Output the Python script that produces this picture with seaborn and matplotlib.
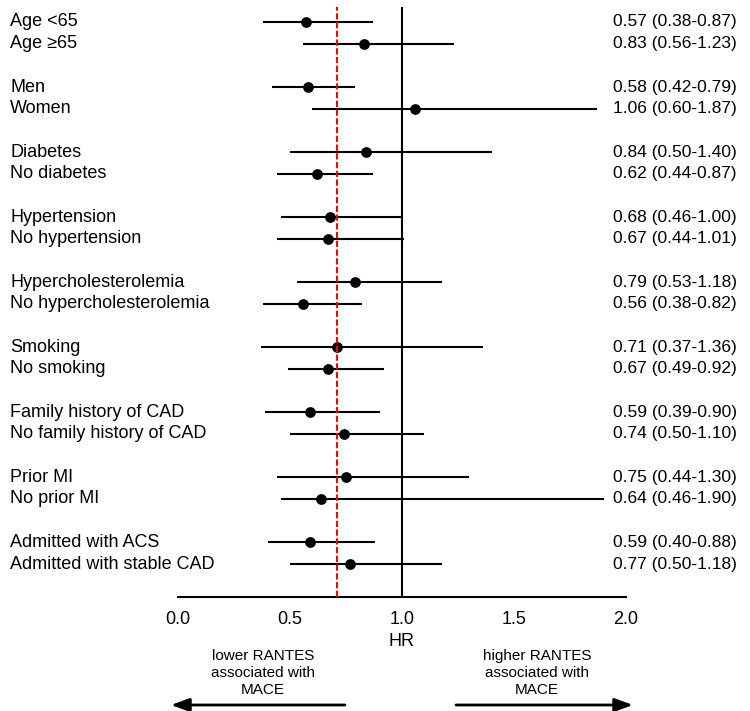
import numpy as np
import pandas as pd
import matplotlib
matplotlib.use("Agg")
import matplotlib.pyplot as plt
import matplotlib.transforms as mtransforms
import seaborn as sns

# Subgroup hazard ratios with 95% confidence intervals
subgroups = [
    "Age <65", "Age \u226565",
    "Men", "Women",
    "Diabetes", "No diabetes",
    "Hypertension", "No hypertension",
    "Hypercholesterolemia", "No hypercholesterolemia",
    "Smoking", "No smoking",
    "Family history of CAD", "No family history of CAD",
    "Prior MI", "No prior MI",
    "Admitted with ACS", "Admitted with stable CAD",
]
hr = [0.57, 0.83, 0.58, 1.06, 0.84, 0.62, 0.68, 0.67, 0.79,
      0.56, 0.71, 0.67, 0.59, 0.74, 0.75, 0.64, 0.59, 0.77]
ci_low = [0.38, 0.56, 0.42, 0.60, 0.50, 0.44, 0.46, 0.44, 0.53,
          0.38, 0.37, 0.49, 0.39, 0.50, 0.44, 0.46, 0.40, 0.50]
ci_high = [0.87, 1.23, 0.79, 1.87, 1.40, 0.87, 1.00, 1.01, 1.18,
           0.82, 1.36, 0.92, 0.90, 1.10, 1.30, 1.90, 0.88, 1.18]
overall_hr = 0.71
x_ticks = [0.0, 0.5, 1.0, 1.5, 2.0]

sns.set_theme(style="white")
plt.rcParams["font.family"] = ["Liberation Sans", "DejaVu Sans"]
plt.rcParams["text.color"] = "black"
plt.rcParams["axes.labelcolor"] = "black"
plt.rcParams["xtick.color"] = "black"

# Two subgroups per block, with an empty row between blocks
ypos = [(i // 2) * 3 + (i % 2) for i in range(len(subgroups))]
df = pd.DataFrame({"subgroup": subgroups, "hr": hr, "lo": ci_low,
                   "hi": ci_high, "y": ypos})

fig = plt.figure(figsize=(7.5, 7.11), dpi=100)
ax = fig.add_axes([178 / 750, 114 / 711, 448 / 750, 590 / 711])

ax.hlines(df["y"], df["lo"], df["hi"], color="black", lw=1.5, zorder=2)
sns.scatterplot(data=df, x="hr", y="y", color="black", s=60,
                edgecolor="black", linewidth=0, zorder=3, ax=ax, legend=False)

ax.axvline(1.0, color="black", lw=1.5, zorder=1)
ax.axvline(overall_hr, color="#ff0000", lw=1.5, ls=(0, (3, 1.2)), zorder=4)

ax.set_xlim(0, 2.0)
ax.set_ylim(26.52, -0.69)
ax.set_xticks(x_ticks)
ax.set_xticklabels([f"{t:.1f}" for t in x_ticks], fontsize=13, color="black")
ax.set_yticks([])
ax.set_xlabel("HR", fontsize=13, labelpad=4, color="black")
ax.set_ylabel("")
for side in ["left", "right", "top"]:
    ax.spines[side].set_visible(False)
ax.spines["bottom"].set_color("black")
ax.spines["bottom"].set_linewidth(1.5)
ax.tick_params(axis="x", direction="out", length=7, width=1.5,
               color="black", pad=3, labelcolor="black")

trans = mtransforms.blended_transform_factory(ax.transAxes, ax.transData)
for _, row in df.iterrows():
    ax.text((10 - 178) / 448, row["y"], row["subgroup"], transform=trans,
            ha="left", va="center", fontsize=13, color="black", clip_on=False)
    ax.text((613 - 178) / 448, row["y"],
            f"{row['hr']:.2f} ({row['lo']:.2f}-{row['hi']:.2f})",
            transform=trans, ha="left", va="center", fontsize=12.5,
            color="black", clip_on=False)

# Direction labels with arrows beneath the axis
fig.text(263 / 750, 1 - 673 / 711, "lower RANTES\nassociated with\nMACE",
         ha="center", va="center", fontsize=11, linespacing=1.3, color="black")
fig.text(537 / 750, 1 - 673 / 711, "higher RANTES\nassociated with\nMACE",
         ha="center", va="center", fontsize=11, linespacing=1.3, color="black")
arrow_y = 1 - 705 / 711
arrow_style = dict(arrowstyle="-|>,head_length=0.55,head_width=0.2",
                   lw=2, color="black", mutation_scale=20,
                   shrinkA=0, shrinkB=0)
ax.annotate("", xy=(171 / 750, arrow_y), xytext=(345 / 750, arrow_y),
            xycoords="figure fraction", textcoords="figure fraction",
            arrowprops=arrow_style)
ax.annotate("", xy=(633 / 750, arrow_y), xytext=(456 / 750, arrow_y),
            xycoords="figure fraction", textcoords="figure fraction",
            arrowprops=arrow_style)

fig.savefig("out.png", dpi=100)
